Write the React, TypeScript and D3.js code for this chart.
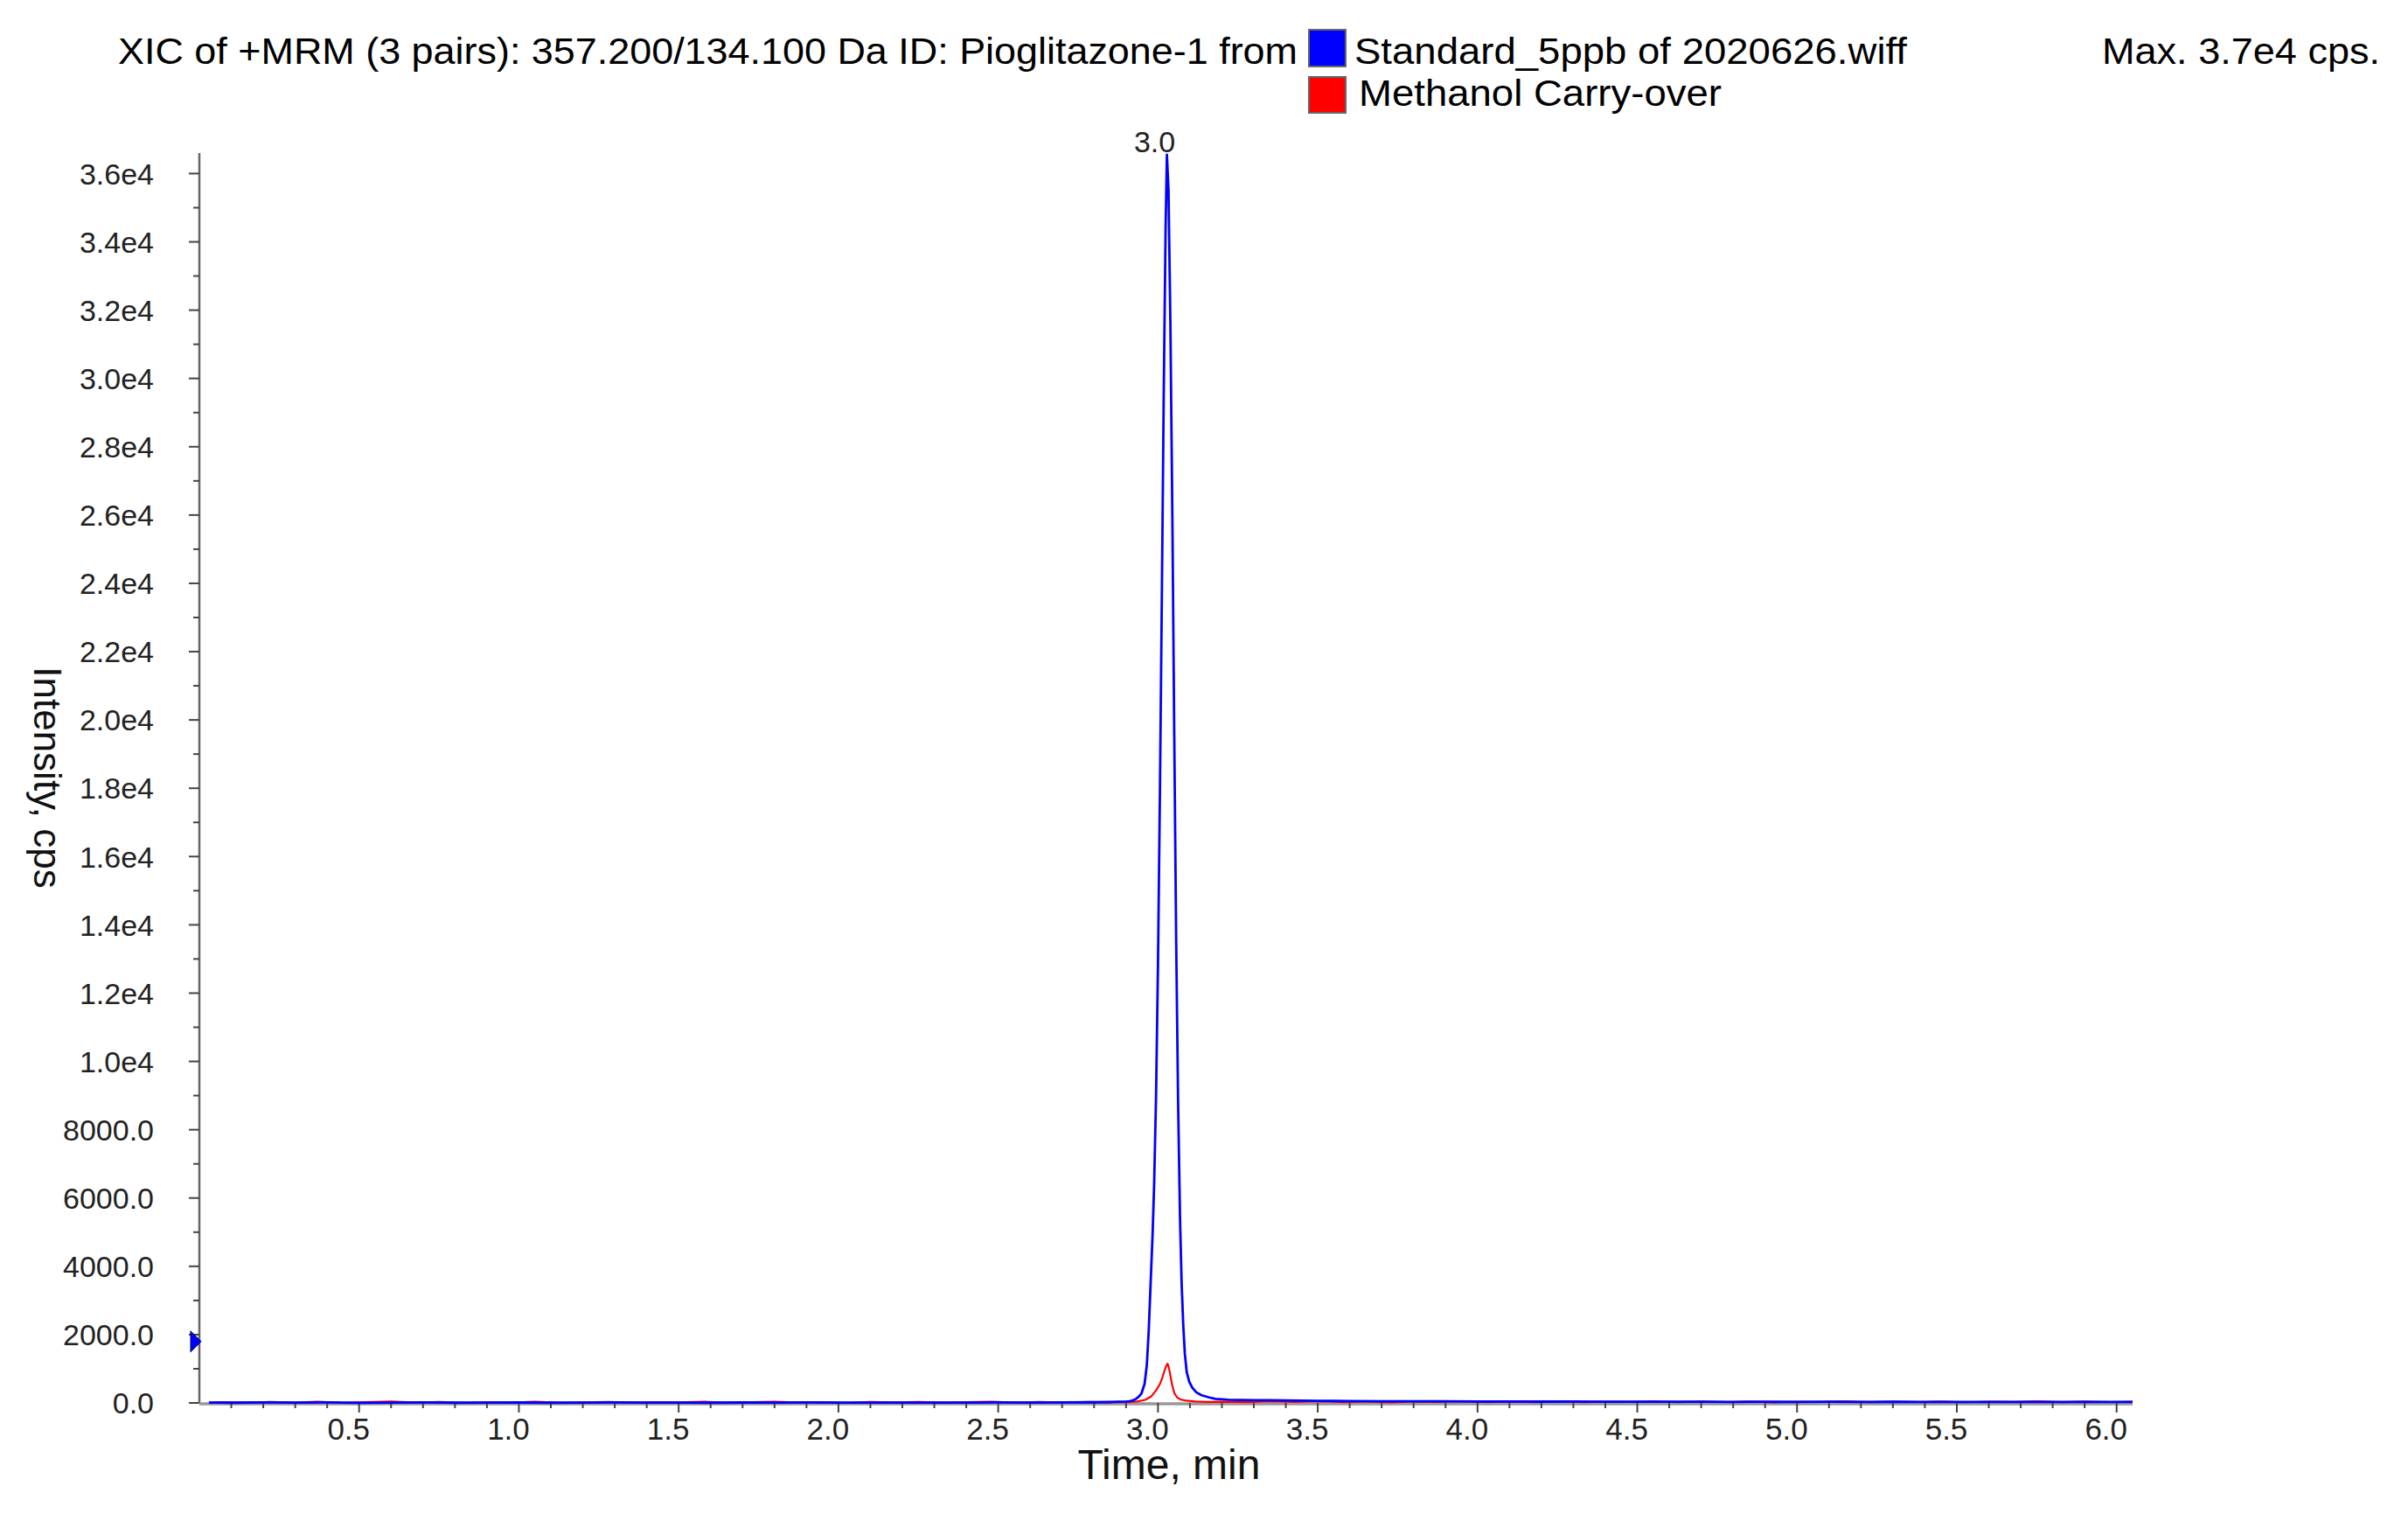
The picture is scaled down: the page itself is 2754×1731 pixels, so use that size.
import React, { useEffect } from "react";
import * as d3 from "d3";

// ---------- DATA ----------
const titleText = "XIC of +MRM (3 pairs): 357.200/134.100 Da ID: Pioglitazone-1 from";
const seriesNames = ["Standard_5ppb of 2020626.wiff", "Methanol Carry-over"];
const seriesColors = ["#0000FF", "#FF0000"];
const maxText = "Max. 3.7e4 cps.";
const peakLabel = "3.0";
const peakLabelTime = 3.028;
const markerLevel = 1800;

const xTicksMajor = [0.5, 1.0, 1.5, 2.0, 2.5, 3.0, 3.5, 4.0, 4.5, 5.0, 5.5, 6.0];
const yTicksMajor = [0, 2000, 4000, 6000, 8000, 10000, 12000, 14000, 16000, 18000, 20000, 22000, 24000, 26000, 28000, 30000, 32000, 34000, 36000];

const blueTime = [
  0.03, 0.1, 0.2, 0.3, 0.4, 0.5, 0.6, 0.7, 0.8, 0.9, 1.0, 1.1, 1.2, 1.3, 1.4, 1.5, 1.6, 1.7, 1.8, 1.9, 2.0, 2.1, 2.2, 2.3, 2.4, 2.5, 2.6, 2.7, 2.8, 2.85,
  2.9, 2.91, 2.92, 2.93, 2.94, 2.948, 2.958, 2.965, 2.971, 2.977, 2.983, 2.988, 2.994, 3.0, 3.006, 3.012, 3.018, 3.024, 3.028, 3.033, 3.039, 3.045, 3.051, 3.057, 3.063, 3.069, 3.074, 3.079, 3.084, 3.09, 3.098, 3.107, 3.12, 3.135, 3.16, 3.18,
  3.22, 3.26, 3.3, 3.35, 3.4, 3.45, 3.5, 3.55, 3.6, 3.7, 3.8, 3.9, 4.0, 4.1, 4.2, 4.3, 4.4, 4.5, 4.6, 4.7, 4.8, 4.9, 5.0, 5.1, 5.2, 5.3, 5.4, 5.5, 5.6, 5.7, 5.8, 5.9, 6.0, 6.05,
];
const blueIntensity = [
  12, 6, 14, 8, 16, 5, 11, 15, 7, 10, 13, 6, 10, 14, 8, 12, 7, 13, 9, 15, 8, 11, 12, 9, 12, 16, 10, 14, 19, 26,
  40, 50, 70, 110, 180, 270, 550, 1100, 2100, 3500, 4900, 6400, 9000, 12800, 17800, 23500, 29500, 34500, 36550, 35500, 31500, 26000, 19500, 13500, 8800, 5400, 3500, 2300, 1450, 900, 620, 450, 310, 230, 160, 120,
  95, 88, 82, 78, 72, 68, 62, 58, 55, 50, 46, 48, 42, 44, 38, 40, 35, 37, 33, 36, 31, 34, 30, 33, 29, 32, 28, 31, 27, 30, 28, 31, 27, 29,
];

const redTime = [
  0.03, 0.08, 0.15, 0.22, 0.3, 0.37, 0.45, 0.52, 0.6, 0.68, 0.75, 0.83, 0.9, 0.98, 1.05, 1.13, 1.2, 1.28, 1.35, 1.43, 1.5, 1.58, 1.65, 1.73, 1.8, 1.88, 1.95, 2.03, 2.1, 2.18, 2.25, 2.33, 2.4, 2.48, 2.55, 2.63, 2.7, 2.78, 2.85,
  2.9, 2.934, 2.96, 2.979, 2.995, 3.007, 3.015, 3.021, 3.026, 3.03, 3.034, 3.039, 3.045, 3.052, 3.06, 3.071, 3.09, 3.117, 3.15,
  3.2, 3.28, 3.35, 3.43, 3.5, 3.58, 3.65, 3.73, 3.8, 3.88, 3.95, 4.03, 4.1, 4.18, 4.25, 4.33, 4.4, 4.48, 4.55, 4.63, 4.7, 4.78, 4.85, 4.93, 5.0, 5.08, 5.15, 5.23, 5.3, 5.38, 5.45, 5.53, 5.6, 5.68, 5.75, 5.83, 5.9, 5.98, 6.05,
];
const redIntensity = [
  8, 25, 5, 30, 10, 35, 6, 20, 40, 8, 28, 5, 22, 12, 38, 6, 18, 30, 9, 26, 14, 33, 7, 21, 36, 10, 24, 6, 29, 15, 32, 8, 20, 37, 11, 27, 13, 30, 16,
  20, 40, 90, 190, 380, 570, 780, 960, 1090, 1150, 1040, 790, 500, 270, 160, 100, 65, 40, 30,
  35, 20, 45, 25, 50, 22, 40, 18, 42, 26, 48, 20, 38, 24, 45, 19, 36, 28, 50, 21, 40, 25, 44, 18, 39, 27, 47, 20, 35, 26, 42, 19, 38, 29, 46, 22, 40, 25, 33,
];

// ---------- LAYOUT ----------
const W = 2754;
const H = 1731;
const plotLeft = 228;
const plotRight = 2439;
const plotTop = 175;
const plotBottom = 1604;
const xMax = 6.05;
const yMax = 36600;
const FONT = "'Liberation Sans', Arial, sans-serif";

function fmtY(v: number) {
  if (v >= 10000) return (v / 10000).toFixed(1) + "e4";
  return v.toFixed(1);
}

export default function App() {
  useEffect(() => {
    document.body.style.margin = "0";
  }, []);

  const x = d3.scaleLinear().domain([0, xMax]).range([plotLeft, plotRight]);
  const y = d3.scaleLinear().domain([0, yMax]).range([plotBottom, plotTop]);

  const line = d3
    .line<[number, number]>()
    .x((d) => x(d[0]))
    .y((d) => y(d[1]));

  const blueData: [number, number][] = blueTime.map((t, i) => [t, blueIntensity[i]]);
  const redData: [number, number][] = redTime.map((t, i) => [t, redIntensity[i]]);

  const xMinor = d3.range(1, Math.floor(xMax * 10) + 1).map((k) => k / 10).filter((v) => Math.abs(v * 2 - Math.round(v * 2)) > 1e-6);
  const yMinor = d3.range(1000, yMax, 2000);

  const markerY = y(markerLevel);

  return (
    <svg width={W} height={H} style={{ display: "block", background: "#fff" }} fontFamily={FONT}>
      <rect x={0} y={0} width={W} height={H} fill="#fff" />
      {/* Title */}
      <text x={135} y={73} fontSize={42} fill="#000" textLength={1349} lengthAdjust="spacingAndGlyphs">
        {titleText}
      </text>
      {/* Legend */}
      <rect x={1497} y={34} width={42} height={42} fill={seriesColors[0]} stroke="#666" strokeWidth={2} />
      <rect x={1497} y={88} width={42} height={41} fill={seriesColors[1]} stroke="#666" strokeWidth={2} />
      <text x={1549} y={73} fontSize={42} fill="#000" textLength={632} lengthAdjust="spacingAndGlyphs">
        {seriesNames[0]}
      </text>
      <text x={1554} y={121} fontSize={42} fill="#000" textLength={415} lengthAdjust="spacingAndGlyphs">
        {seriesNames[1]}
      </text>
      <text x={2404} y={73} fontSize={42} fill="#000" textLength={318} lengthAdjust="spacingAndGlyphs">
        {maxText}
      </text>

      {/* Y axis */}
      <line x1={plotLeft} x2={plotLeft} y1={plotTop} y2={plotBottom} stroke="#666" strokeWidth={2.5} />
      {yTicksMajor.map((v) => (
        <g key={"ym" + v}>
          <line x1={plotLeft - 12} x2={plotLeft} y1={y(v)} y2={y(v)} stroke="#444" strokeWidth={2} />
          <text x={176} y={y(v)} dy="0.36em" fontSize={34} textAnchor="end" fill="#222">
            {fmtY(v)}
          </text>
        </g>
      ))}
      {yMinor.map((v) => (
        <line key={"yn" + v} x1={plotLeft - 7} x2={plotLeft} y1={y(v)} y2={y(v)} stroke="#444" strokeWidth={2} />
      ))}
      <text
        transform={`translate(54, 889) rotate(90)`}
        textAnchor="middle"
        dy="0.35em"
        fontSize={44}
        fill="#111"
      >
        Intensity, cps
      </text>

      {/* X axis */}
      <line x1={plotLeft} x2={plotRight} y1={plotBottom + 1} y2={plotBottom + 1} stroke="#999" strokeWidth={3.5} />
      {xTicksMajor.map((v) => (
        <g key={"xm" + v}>
          <line x1={x(v)} x2={x(v)} y1={plotBottom} y2={plotBottom + 11} stroke="#444" strokeWidth={2} />
          <text x={x(v) - 12} y={1646} fontSize={35} textAnchor="middle" fill="#222">
            {v.toFixed(1)}
          </text>
        </g>
      ))}
      {xMinor.map((v) => (
        <line key={"xn" + v} x1={x(v)} x2={x(v)} y1={plotBottom} y2={plotBottom + 6} stroke="#444" strokeWidth={2} />
      ))}
      <text x={1337} y={1691} fontSize={48} textAnchor="middle" fill="#111">
        Time, min
      </text>

      {/* Series */}
      <path d={line(redData) || ""} fill="none" stroke={seriesColors[1]} strokeWidth={2.2} strokeLinejoin="round" />
      <path d={line(blueData) || ""} fill="none" stroke={seriesColors[0]} strokeWidth={2.8} strokeLinejoin="round" />

      {/* Peak label */}
      <text x={x(peakLabelTime) - 14} y={174} fontSize={34} textAnchor="middle" fill="#222">
        {peakLabel}
      </text>

      {/* Threshold marker */}
      <path
        d={`M${plotLeft - 10},${markerY - 12} L${plotLeft + 2},${markerY} L${plotLeft - 10},${markerY + 12} Z`}
        fill="#0000FF"
        stroke="#000066"
        strokeWidth={1}
      />
    </svg>
  );
}
